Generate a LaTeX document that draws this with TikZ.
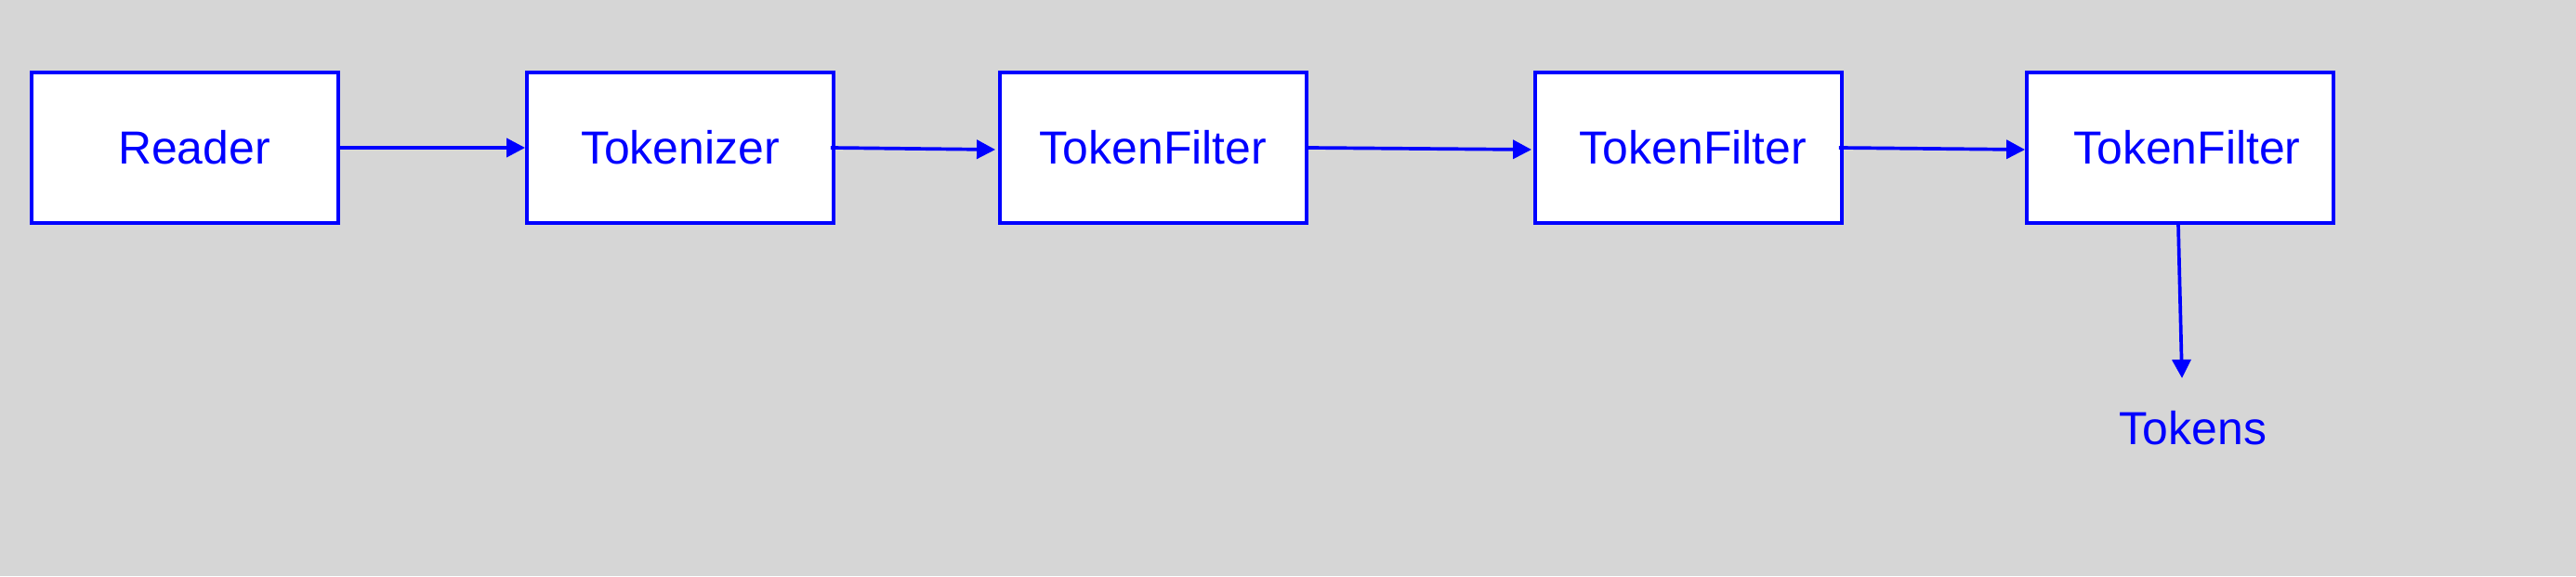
\documentclass[tikz,border=0pt]{standalone}
\usepackage{fontspec}
\setmainfont{Liberation Sans}
\usetikzlibrary{arrows.meta}
\definecolor{bgGray}{RGB}{214,214,214}
\definecolor{pipeBlue}{RGB}{0,0,255}
\begin{document}
\begin{tikzpicture}[
  block/.style={draw=pipeBlue, fill=white, line width=1.1pt, minimum width=3.3cm, minimum height=1.62cm, inner sep=0pt, text=pipeBlue, font=\fontsize{14.2}{17}\selectfont},
  flow/.style={draw=pipeBlue, line width=1.05pt, -{Triangle[length=0.2cm,width=0.2cm]}}
]
\fill[bgGray] (0,0) rectangle (27.72,6.20);
\node[block] (reader) at (1.99,4.61) {\hspace{0.2cm}Reader};
\node[block] (tokenizer) at (7.32,4.61) {Tokenizer};
\node[block] (filterA) at (12.41,4.61) {TokenFilter};
\node[block] (filterB) at (18.17,4.61) {\hspace{0.1cm}TokenFilter};
\node[block] (filterC) at (23.46,4.61) {\hspace{0.15cm}TokenFilter};
\node[text=pipeBlue, font=\fontsize{14.2}{17}\selectfont] (tokens) at (23.60,1.59) {Tokens};
\draw[flow] (reader.east) -- (tokenizer.west);
\draw[flow] ([xshift=-0.05cm]tokenizer.east) -- ([xshift=-0.03cm,yshift=-0.02cm]filterA.west);
\draw[flow] (filterA.east) -- ([xshift=-0.02cm,yshift=-0.02cm]filterB.west);
\draw[flow] ([xshift=-0.05cm]filterB.east) -- ([yshift=-0.02cm]filterC.west);
\draw[flow] ([xshift=-0.02cm]filterC.south) -- ([xshift=-0.12cm,yshift=0.54cm]tokens.center);
\end{tikzpicture}
\end{document}
